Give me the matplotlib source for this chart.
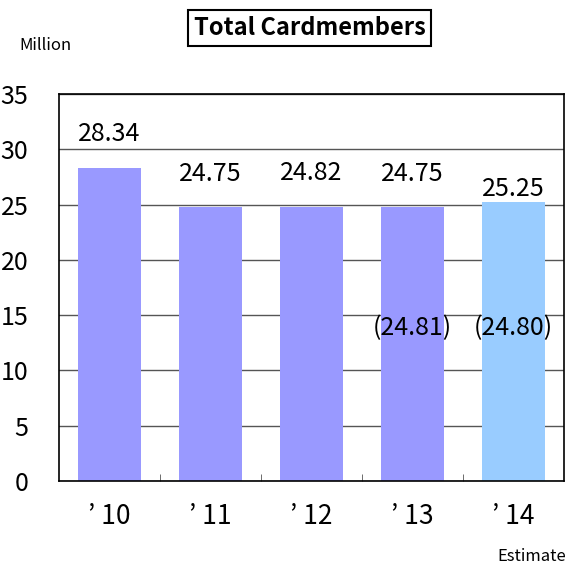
import numpy as np
import matplotlib.pyplot as plt

plt.rcParams['font.family'] = ['Noto Sans CJK JP', 'DejaVu Sans']

years = ['’ 10', '’ 11', '’ 12', '’ 13', '’ 14']
members = [28.34, 24.75, 24.82, 24.75, 25.25]
labels = ['28.34', '24.75', '24.82', '24.75', '25.25']
label_gap = [3.0, 3.0, 3.0, 3.0, 1.2]
prior = ['', '', '', '(24.81)', '(24.80)']
colors = ['#9999ff', '#9999ff', '#9999ff', '#9999ff', '#99ccff']

fig = plt.figure(figsize=(5.70, 5.71), dpi=100)
ax = fig.add_axes([0.1035, 0.1576, 0.886, 0.6778])

x = np.arange(len(years))
ax.bar(x, members, width=0.62, color=colors, zorder=2)

for i in range(len(x)):
    ax.text(x[i], members[i] + label_gap[i], labels[i], ha='center', va='center', fontsize=18, zorder=3)
    if prior[i]:
        ax.text(x[i], 13.8, prior[i], ha='center', va='center', fontsize=18, zorder=3)

ax.set_xlim(-0.5, 4.5)
ax.set_ylim(0, 35)
ax.set_yticks(range(0, 36, 5))
ax.yaxis.grid(True, color='#555555', linewidth=1, zorder=1)
ax.tick_params(axis='y', length=0, labelsize=18, pad=22)
ax.set_xticks(x)
ax.set_xticklabels(years, fontsize=19)
ax.tick_params(axis='x', length=0, pad=16)
ax.set_xticks(np.arange(0.5, 4.0, 1.0), minor=True)
ax.tick_params(axis='x', which='minor', direction='in', length=5, color='#555555')
for s in ax.spines.values():
    s.set_color('black')
    s.set_linewidth(1.2)

fig.text(0.543, 0.951, 'Total Cardmembers', ha='center', va='center', fontsize=17, fontweight='bold',
         bbox=dict(facecolor='white', edgecolor='black', linewidth=1.5, boxstyle='square,pad=0.25'))
fig.text(0.08, 0.921, 'Million', ha='center', va='center', fontsize=12)
fig.text(0.933, 0.025, 'Estimate', ha='center', va='center', fontsize=12)

plt.savefig('out.png')
